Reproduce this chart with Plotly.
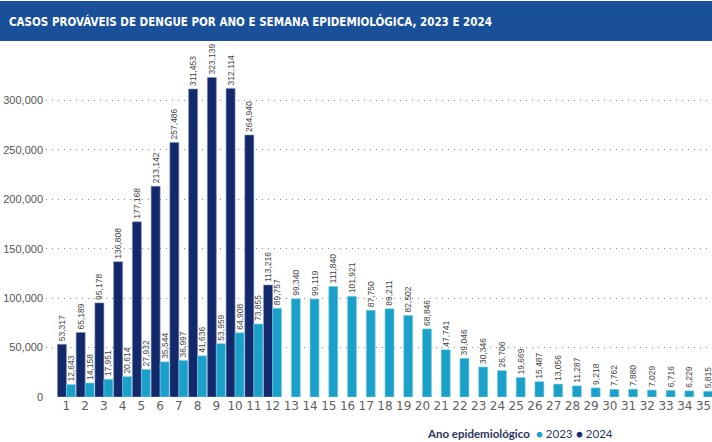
import plotly.graph_objects as go

weeks = list(range(1, 36))
cases_2023 = [12643, 14158, 17951, 20614, 27932, 35544, 36997, 41636, 53959, 64908,
              73855, 89757, 99340, 99119, 111840, 101921, 87750, 89211, 82502, 68846,
              47741, 39046, 30346, 26706, 19669, 15487, 13056, 11287, 9218, 7762,
              7880, 7029, 6716, 6229, 5815]
cases_2024 = [53317, 65189, 95178, 136808, 177168, 213142, 257486, 311453, 323139, 312114,
              264940, 113216] + [None] * 23
ytick_vals = [0, 50000, 100000, 150000, 200000, 250000, 300000]

title = "CASOS PROVÁVEIS DE DENGUE POR ANO E SEMANA EPIDEMIOLÓGICA, 2023 E 2024"
legend_title = "Ano epidemiológico"
c2023 = "#1aa0c9"
c2024 = "#13296b"

W, H = 712, 442
ML, MR, MT, MB = 46, 0, 45, 45
PW, PH = W - ML - MR, H - MT - MB

def px_x(p):
    return (p - ML) / PW

def px_y(p):
    return (H - MB - p) / PH

def fmt(v):
    return "" if v is None else f"{v:,}"

fig = go.Figure()
fig.add_trace(go.Bar(x=weeks, y=cases_2024, name="2024", marker_color=c2024,
                     marker_line=dict(color="#8090b8", width=0.6),
                     text=[fmt(v) for v in cases_2024], textposition="outside",
                     textangle=-90, constraintext="none", cliponaxis=False,
                     textfont=dict(size=8.5, color="#444444", family="Liberation Sans"),
                     showlegend=False, hoverinfo="skip"))
fig.add_trace(go.Bar(x=weeks, y=cases_2023, name="2023", marker_color=c2023,
                     marker_line=dict(color="#7fd0e8", width=0.6),
                     text=[fmt(v) for v in cases_2023], textposition="outside",
                     textangle=-90, constraintext="none", cliponaxis=False,
                     textfont=dict(size=8.5, color="#444444", family="Liberation Sans"),
                     showlegend=False, hoverinfo="skip"))

fig.update_layout(
    width=W, height=H,
    margin=dict(l=ML, r=MR, t=MT, b=MB, autoexpand=False),
    paper_bgcolor="white", plot_bgcolor="white",
    barmode="group", bargap=0.04, bargroupgap=0,
    showlegend=False,
    font=dict(family="Liberation Sans", color="#555555"),
    xaxis=dict(range=[-0.09, 35.45], tickmode="array", tickvals=weeks,
               ticktext=[str(w) for w in weeks], showgrid=False, zeroline=False,
               showline=False, ticks="", automargin=False,
               tickfont=dict(size=12, color="#606060", family="DejaVu Sans")),
    yaxis=dict(range=[0, 356000], tickmode="array", tickvals=ytick_vals,
               ticktext=[f"{v:,}" for v in ytick_vals], showgrid=True,
               gridcolor="#8a8a8a", griddash="1px,5px", gridwidth=1, zeroline=False,
               showline=False, ticks="", automargin=False,
               tickfont=dict(size=11, color="#555555"), ticklabelstandoff=2),
    shapes=[dict(type="rect", xref="paper", yref="paper", x0=px_x(0), x1=px_x(W),
                 y0=px_y(41), y1=px_y(1),
                 fillcolor="#1a4f9a", line=dict(width=0), layer="above")],
    annotations=[
        dict(text="<b>" + title + "</b>", xref="paper", yref="paper",
             x=px_x(7), y=px_y(21), xanchor="left", yanchor="middle", showarrow=False,
             font=dict(size=11.5, color="white", family="DejaVu Sans Condensed")),
        dict(text="<b>" + legend_title + "</b>", xref="paper", yref="paper",
             x=px_x(425), y=px_y(433), xanchor="left", yanchor="middle", showarrow=False,
             font=dict(size=11.5, color="#2a3560", family="Lato")),
        dict(text=f"<span style='color:{c2023}'>●</span> 2023", xref="paper", yref="paper",
             x=px_x(534), y=px_y(433), xanchor="left", yanchor="middle", showarrow=False,
             font=dict(size=11.5, color="#2a3560", family="Lato")),
        dict(text=f"<span style='color:{c2024}'>●</span> 2024", xref="paper", yref="paper",
             x=px_x(574), y=px_y(433), xanchor="left", yanchor="middle", showarrow=False,
             font=dict(size=11.5, color="#2a3560", family="Lato")),
    ],
)

fig.write_html("out.html", config={"displayModeBar": False},
               post_script="document.body.style.margin='0';document.body.style.overflow='hidden';")
